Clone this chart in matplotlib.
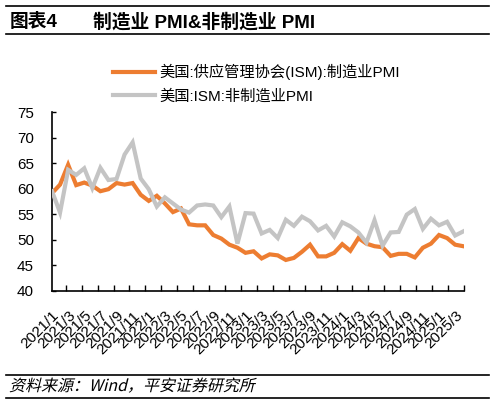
import numpy as np
import matplotlib
matplotlib.use("Agg")
import matplotlib.pyplot as plt
from matplotlib.lines import Line2D
from matplotlib.textpath import TextPath
from matplotlib.patches import PathPatch
from matplotlib.font_manager import FontProperties
from matplotlib.transforms import Affine2D

plt.rcParams['font.family'] = ['Liberation Sans', 'Noto Sans CJK SC', 'DejaVu Sans']

# 数据：2021/1 - 2025/4 月度
meses = [f"{a}/{m}" for a in range(2021, 2026) for m in range(1, 13)][:52]
pmi_manuf = [59.1, 60.8, 64.7, 60.7, 61.2, 60.6, 59.5, 59.9, 61.1, 60.8, 61.1, 58.8,
             57.6, 58.6, 57.1, 55.4, 56.1, 53.0, 52.8, 52.8, 50.9, 50.2, 49.0, 48.4,
             47.4, 47.7, 46.3, 47.1, 46.9, 46.0, 46.4, 47.6, 49.0, 46.7, 46.7, 47.4,
             49.1, 47.8, 50.3, 49.2, 48.7, 48.5, 46.8, 47.2, 47.2, 46.5, 48.4, 49.2,
             50.9, 50.3, 49.0, 48.7]
pmi_serv = [59.5, 55.3, 63.7, 62.7, 64.0, 60.1, 64.1, 61.7, 61.9, 66.7, 69.1, 62.0,
            59.9, 56.5, 58.3, 57.1, 55.9, 55.3, 56.7, 56.9, 56.7, 54.4, 56.5, 49.2,
            55.2, 55.1, 51.2, 51.9, 50.3, 53.9, 52.7, 54.5, 53.6, 51.8, 52.7, 50.6,
            53.4, 52.6, 51.4, 49.4, 53.8, 48.8, 51.4, 51.5, 54.9, 56.0, 52.1, 54.1,
            52.8, 53.5, 50.8, 51.6]
etiquetas = meses[0:51:2]
nombres = ["美国:供应管理协会(ISM):制造业PMI", "美国:ISM:非制造业PMI"]
fuente = "资料来源：Wind，平安证券研究所"

x = np.arange(len(meses))

W, H, DPI = 495, 405, 100
fig = plt.figure(figsize=(W / DPI, H / DPI), dpi=DPI)
ax = fig.add_axes([52 / W, 1 - 290.5 / H, (464 - 52) / W, (290.5 - 112.3) / H])

ax.plot(x, pmi_manuf, color="#ED7D31", lw=3.0, solid_joinstyle="miter", zorder=2)
ax.plot(x, pmi_serv, color="#C4C4C4", lw=3.0, solid_joinstyle="miter", zorder=3)

ax.set_xlim(0, 51.1)
ax.set_ylim(40, 75)
ax.set_yticks(np.arange(40, 76, 5))

# marcas del eje x (sin texto) y etiquetas en posiciones pares
ax.set_xticks(np.linspace(1.7, 51.1, 26))
ax.set_xticklabels([])
ax.set_xticks(x[0:51:2], minor=True)
ax.set_xticklabels(etiquetas, minor=True, rotation=45, ha="right", va="top",
                   rotation_mode="anchor", fontsize=11)
ax.tick_params(axis="x", which="major", direction="in", length=4, width=1)
ax.tick_params(axis="x", which="minor", length=0, pad=13)
ax.tick_params(axis="y", direction="in", length=3, width=1, labelsize=11, pad=13)

for s in ["top", "right"]:
    ax.spines[s].set_visible(False)
for s in ["left", "bottom"]:
    ax.spines[s].set_linewidth(1.2)

# Leyenda
handles = [Line2D([], [], color="#ED7D31", lw=3.0), Line2D([], [], color="#C4C4C4", lw=3.0)]
fig.legend(handles, nombres, loc="upper left", bbox_to_anchor=(113 / W, 1 - 64 / H),
           frameon=False, fontsize=11, handlelength=2.75, handletextpad=0.28,
           labelspacing=0.6, borderpad=0, borderaxespad=0)

# Título y líneas
fig.text(10 / W, 1 - 22 / H, "图表4", fontsize=13.5, fontweight="bold", va="center")
fig.text(93 / W, 1 - 22 / H, "制造业 PMI&非制造业 PMI", fontsize=13.5,
         fontweight="bold", va="center")
for yy in [6, 34, 375, 398]:
    fig.add_artist(Line2D([6 / W, 489 / W], [1 - yy / H, 1 - yy / H],
                          color="black", lw=1.2))

# Fuente en cursiva (inclinada a mano, la fuente CJK no tiene cursiva)
tp = TextPath((0, 0), fuente, size=11.5, prop=FontProperties(family="Noto Sans CJK SC"))
tr = Affine2D().skew_deg(14, 0).scale(DPI / 72).translate(9, H - 391)
fig.add_artist(PathPatch(tp, transform=tr, color="black", lw=0))

fig.savefig("out.png", dpi=DPI)
